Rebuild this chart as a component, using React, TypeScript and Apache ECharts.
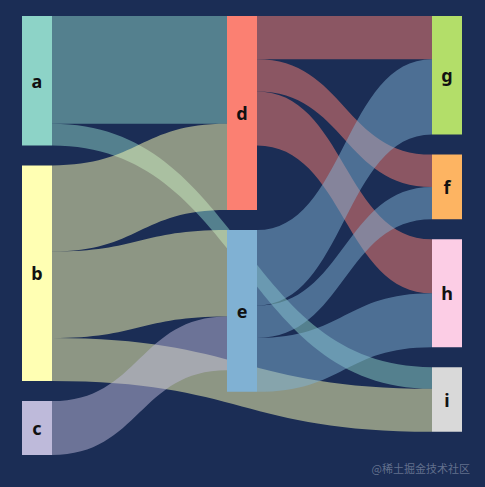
import { useEffect, useRef } from 'react'
import * as echarts from 'echarts'

const nodeNames = ['a', 'b', 'c', 'd', 'e', 'g', 'f', 'h', 'i']
const nodeColors = ['#8dd3c7', '#ffffb3', '#bebada', '#fb8072', '#80b1d3', '#b3de69', '#fdb462', '#fccde5', '#d9d9d9']

const linkSources = ['a', 'a', 'b', 'b', 'b', 'c', 'd', 'd', 'd', 'e', 'e', 'e']
const linkTargets = ['d', 'i', 'd', 'e', 'i', 'e', 'g', 'f', 'h', 'g', 'f', 'h']
const linkValues = [5, 1, 4, 4, 2, 2.5, 2, 1.5, 2.5, 3.5, 1.5, 2.5]

const App = () => {
  const chartRef = useRef<HTMLDivElement>(null)

  useEffect(() => {
    if (!chartRef.current) return
    const chart = echarts.init(chartRef.current, null, { renderer: 'svg' })

    chart.setOption({
      animation: false,
      backgroundColor: '#1b2d55',
      graphic: [
        {
          type: 'text',
          right: 15,
          bottom: 14,
          style: {
            text: '@稀土掘金技术社区',
            fill: 'rgba(160,170,190,0.55)',
            font: '11px "Noto Sans CJK SC", sans-serif'
          }
        }
      ],
      series: [
        {
          type: 'sankey',
          left: 22,
          top: 16,
          right: 23,
          bottom: 32,
          nodeWidth: 30,
          nodeGap: 20,
          layoutIterations: 0,
          emphasis: { focus: 'adjacency' },
          label: {
            position: 'inside',
            color: '#111',
            fontSize: 18,
            fontWeight: 'bold',
            fontFamily: '"Noto Sans", sans-serif'
          },
          lineStyle: {
            color: 'source',
            opacity: 0.5,
            curveness: 0.5
          },
          data: nodeNames.map((name, i) => ({
            name,
            itemStyle: { color: nodeColors[i], borderWidth: 0 }
          })),
          links: linkSources.map((s, i) => ({
            source: s,
            target: linkTargets[i],
            value: linkValues[i]
          }))
        }
      ]
    })

    const resize = () => chart.resize()
    window.addEventListener('resize', resize)
    return () => {
      window.removeEventListener('resize', resize)
      chart.dispose()
    }
  }, [])

  return <div ref={chartRef} style={{ position: 'fixed', left: 0, top: 0, width: 485, height: 487 }} />
}

export default App
